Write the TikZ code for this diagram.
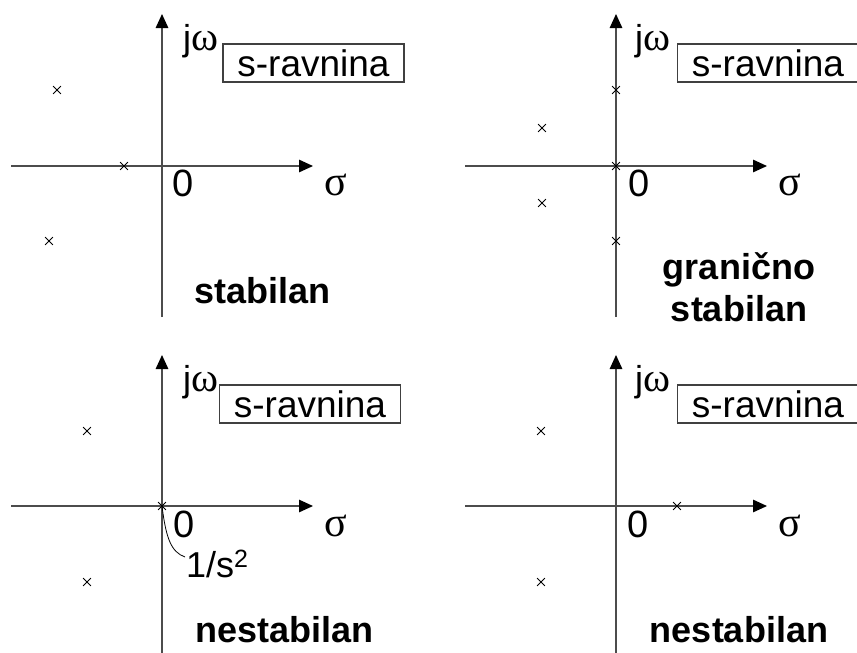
\documentclass[tikz,border=0pt]{standalone}
\usepackage{fontspec}
\setmainfont{Liberation Sans}
\newfontfamily\grk{Liberation Serif}
\usetikzlibrary{arrows.meta,shapes.misc}
\newcommand{\omg}{{\fontsize{41}{40}\selectfont\grk ω}}
\begin{document}
\begin{tikzpicture}[x=1pt,y=-1pt,
  axis/.style={line width=1.3pt, draw=black!70, -{Triangle[length=14pt,width=12.5pt,color=black]}},
  pole/.style={cross out, draw=black, line width=0.8pt, minimum size=7pt, inner sep=0pt},
  txt/.style={inner sep=0pt, font=\fontsize{36}{40}\selectfont},
  zero/.style={inner sep=0pt, font=\fontsize{38}{40}\selectfont},
  gk/.style={inner sep=0pt, font=\fontsize{42}{40}\selectfont\grk},
  bold/.style={inner sep=0pt, font=\fontsize{36}{42}\selectfont\bfseries, align=center},
  sbox/.style={draw=black!75, line width=1.2pt, inner sep=0pt, minimum width=181pt, minimum height=38pt, font=\fontsize{37}{40}\selectfont},
]
\fill[white] (0,0) rectangle (857,653);
\useasboundingbox (0,0) rectangle (857,653);

% ---------- top-left: stabilan ----------
\coordinate (a1s) at (162,317); \coordinate (a1n) at (162,14);
\coordinate (a1w) at (11,166);  \coordinate (a1e) at (313,166);
\draw[axis] (a1s) -- (a1n);
\draw[axis] (a1w) -- (a1e);
\node[txt, anchor=base west] (jw1) at (183,50) {j\omg};
\node[sbox] (b1) at (313.5,63) {s-ravnina};
\node[zero, anchor=base west] (z1) at (172,196) {0};
\node[gk, anchor=base west] (s1) at (324,195) {σ};
\node[pole] (p11) at (57,90) {};
\node[pole] (p12) at (124,166) {};
\node[pole] (p13) at (49,241) {};
\node[bold, anchor=base] (t1) at (262.5,303) {stabilan};

% ---------- top-right: granicno stabilan ----------
\coordinate (a2s) at (616,317); \coordinate (a2n) at (616,14);
\coordinate (a2w) at (465,166); \coordinate (a2e) at (767,166);
\draw[axis] (a2s) -- (a2n);
\draw[axis] (a2w) -- (a2e);
\node[txt, anchor=base west] (jw2) at (635,50) {j\omg};
\node[sbox] (b2) at (768,63) {s-ravnina};
\node[zero, anchor=base west] (z2) at (628,196) {0};
\node[gk, anchor=base west] (s2) at (778,195) {σ};
\node[pole] (p21) at (542,128) {};
\node[pole] (p22) at (542,203) {};
\node[pole] (p23) at (616,90) {};
\node[pole] (p24) at (616,166) {};
\node[pole] (p25) at (616,241) {};
\node[bold, anchor=base] (t2a) at (739,279) {granično};
\node[bold, anchor=base] (t2b) at (739,321) {stabilan};

% ---------- bottom-left: nestabilan (1/s^2) ----------
\coordinate (a3s) at (162,653); \coordinate (a3n) at (162,355);
\coordinate (a3w) at (11,506);  \coordinate (a3e) at (313,506);
\draw[axis] (a3s) -- (a3n);
\draw[axis] (a3w) -- (a3e);
\node[txt, anchor=base west] (jw3) at (183,391) {j\omg};
\node[sbox] (b3) at (310,404) {s-ravnina};
\node[zero, anchor=base west] (z3) at (173,537) {0};
\node[gk, anchor=base west] (s3) at (324,536) {σ};
\node[pole] (p31) at (87,431) {};
\node[pole] (p32) at (87,582) {};
\node[pole] (p33) at (162,506) {};
\node[txt, anchor=base west] (l3) at (186,577) {1/s\raisebox{10pt}{\fontsize{25}{25}\selectfont 2}};
\coordinate (c3) at (185,557);
\draw[line width=0.8pt] (p33.center) .. controls (166,538) and (171,552) .. (c3);
\node[bold, anchor=base] (t3) at (284.5,642) {nestabilan};

% ---------- bottom-right: nestabilan ----------
\coordinate (a4s) at (616,653); \coordinate (a4n) at (616,355);
\coordinate (a4w) at (465,506); \coordinate (a4e) at (767,506);
\draw[axis] (a4s) -- (a4n);
\draw[axis] (a4w) -- (a4e);
\node[txt, anchor=base west] (jw4) at (635,391) {j\omg};
\node[sbox] (b4) at (768,404) {s-ravnina};
\node[zero, anchor=base west] (z4) at (627,537) {0};
\node[gk, anchor=base west] (s4) at (778,536) {σ};
\node[pole] (p41) at (541,431) {};
\node[pole] (p42) at (541,582) {};
\node[pole] (p43) at (677,506) {};
\node[bold, anchor=base] (t4) at (739,642) {nestabilan};
\end{tikzpicture}
\end{document}
